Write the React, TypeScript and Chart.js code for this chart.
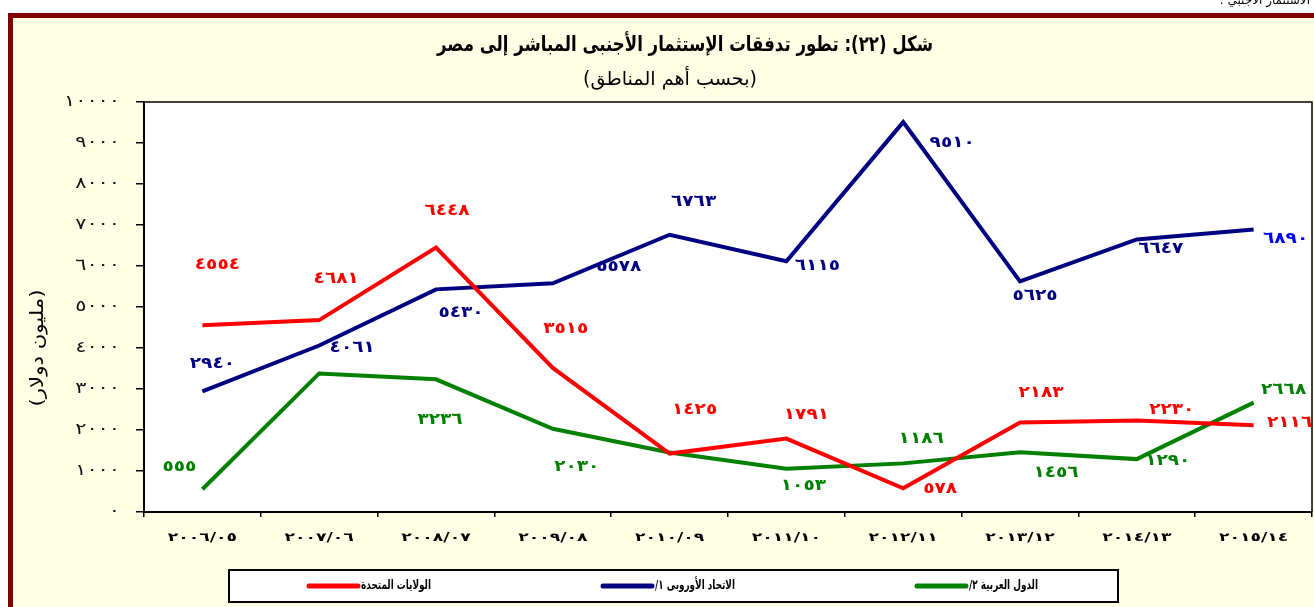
import { useEffect, useRef } from 'react';
import { Chart, registerables } from 'chart.js';

Chart.register(...registerables);

// ---------------- data ----------------
const categories = [
  '٢٠٠٦/٠٥', '٢٠٠٧/٠٦', '٢٠٠٨/٠٧', '٢٠٠٩/٠٨', '٢٠١٠/٠٩',
  '٢٠١١/١٠', '٢٠١٢/١١', '٢٠١٣/١٢', '٢٠١٤/١٣', '٢٠١٥/١٤',
];
const usValues = [4554, 4681, 6448, 3515, 1425, 1791, 578, 2183, 2230, 2116];
const euValues = [2940, 4061, 5430, 5578, 6763, 6115, 9510, 5625, 6647, 6890];
const arabValues = [555, 3380, 3236, 2030, 1450, 1053, 1186, 1456, 1290, 2668];
const seriesNames = ['الولايات المتحدة', 'الاتحاد الأوروبى ١/', 'الدول العربية ٢/'];
const yMin = 0;
const yMax = 10000;
const yStep = 1000;

const titleText = 'شكل (٢٢): تطور تدفقات الإستثمار الأجنبى المباشر إلى مصر';
const subtitleText = '(بحسب أهم المناطق)';
const yAxisTitle = '(مليون دولار)';
const topNote = 'الاستثمار الأجنبي .';

// ---------------- styles / layout ----------------
const colors = ['#FF0000', '#000080', '#008000'];
const labelColors = [
  Array(10).fill('#FF0000'),
  [...Array(9).fill('#000080'), '#0000FF'],
  Array(10).fill('#008000'),
];
// pixel offsets of each value label from its point (null = no label)
const labelOffsets: (number[] | null)[][] = [
  [[15, -60], [17, -41], [11, -37], [13, -39], [25, -44], [20, -24], [37, 1], [21, -30], [35, -11], [36, -2]],
  [[10, -28], [33, 2], [25, 23], [66, -16], [24, -33], [31, 5], [49, 21], [15, 14], [24, 9], [32, 9]],
  [[-23, -22], null, [4, 41], [24, 38], null, [17, 17], [18, -25], [36, 21], [31, 2], [30, -13]],
];
const legendBox = [229, 570, 889, 32];
const legendLineX = [309, 603, 917];
const legendTextW = [70, 80, 69];
const FONT = "'DejaVu Sans', sans-serif";

const toArabicDigits = (v: number | string) =>
  String(v).replace(/\d/g, (d) => '٠١٢٣٤٥٦٧٨٩'[+d]);

// draws text horizontally squeezed/stretched to a target width
function drawFitted(
  ctx: CanvasRenderingContext2D, text: string, x: number, y: number, font: string,
  targetW: number, align: CanvasTextAlign, dir: CanvasDirection = 'rtl',
) {
  ctx.save();
  ctx.font = font;
  ctx.direction = dir;
  ctx.textBaseline = 'middle';
  ctx.textAlign = align;
  const w = ctx.measureText(text).width;
  const s = targetW / w;
  ctx.translate(x, y);
  ctx.scale(s, 1);
  ctx.fillText(text, 0, 0);
  ctx.restore();
}

const decorPlugin = {
  id: 'decor',
  beforeDraw(chart: any) {
    const { ctx, width, height, chartArea } = chart;
    ctx.save();
    ctx.fillStyle = '#FFFFFF';
    ctx.fillRect(0, 0, width, height);
    ctx.fillStyle = '#800000';
    ctx.fillRect(8, 13, width - 8, height - 13);
    ctx.fillStyle = '#FFFFE6';
    ctx.fillRect(13, 18, width - 13, height - 18);
    ctx.fillStyle = '#FFFFFF';
    ctx.fillRect(chartArea.left, chartArea.top, chartArea.right - chartArea.left, chartArea.bottom - chartArea.top);
    // top cropped note
    ctx.fillStyle = '#000';
    ctx.font = `12px ${FONT}`;
    ctx.direction = 'rtl';
    ctx.textAlign = 'right';
    ctx.textBaseline = 'alphabetic';
    ctx.fillText(topNote, 1310, 4);
    ctx.restore();
  },
  afterDraw(chart: any) {
    const { ctx, chartArea, scales } = chart;
    ctx.save();
    // plot box border
    ctx.strokeStyle = '#000';
    ctx.lineWidth = 1.5;
    ctx.beginPath();
    ctx.moveTo(chartArea.left, chartArea.top);
    ctx.lineTo(chartArea.right, chartArea.top);
    ctx.lineTo(chartArea.right, chartArea.bottom);
    ctx.stroke();

    // y tick labels
    ctx.fillStyle = '#111';
    scales.y.ticks.forEach((t: any) => {
      const s = toArabicDigits(t.value);
      drawFitted(ctx, s, 120, scales.y.getPixelForValue(t.value), `16px ${FONT}`, s.length * 11.2, 'right', 'ltr');
    });
    // x tick labels
    ctx.fillStyle = '#000';
    categories.forEach((c, i) => {
      drawFitted(ctx, c, scales.x.getPixelForValue(i), 538, `bold 12px ${FONT}`, c.length * 9.9, 'center', 'ltr');
    });

    // value labels
    chart.data.datasets.forEach((ds: any, di: number) => {
      const meta = chart.getDatasetMeta(di);
      meta.data.forEach((pt: any, i: number) => {
        const off = labelOffsets[di][i];
        if (!off) return;
        const s = toArabicDigits(ds.data[i]);
        ctx.fillStyle = labelColors[di][i];
        drawFitted(ctx, s, pt.x + off[0], pt.y + off[1], `bold 16px ${FONT}`, s.length * 11.3, 'center', 'ltr');
      });
    });

    // titles
    ctx.fillStyle = '#000';
    drawFitted(ctx, titleText, 685, 46, `bold 21px ${FONT}`, 496, 'center');
    drawFitted(ctx, subtitleText, 670, 80, `19px ${FONT}`, 174, 'center');

    // y axis title
    ctx.save();
    ctx.translate(38, 348);
    ctx.rotate(-Math.PI / 2);
    drawFitted(ctx, yAxisTitle, 0, 0, `18px ${FONT}`, 117, 'center');
    ctx.restore();

    // legend
    const [bx, by, bw, bh] = legendBox;
    ctx.fillStyle = '#FFFFFF';
    ctx.fillRect(bx, by, bw, bh);
    ctx.strokeStyle = '#000';
    ctx.lineWidth = 2;
    ctx.strokeRect(bx, by, bw, bh);
    const ly = by + bh / 2;
    chart.data.datasets.forEach((ds: any, di: number) => {
      const x = legendLineX[di];
      ctx.strokeStyle = ds.borderColor;
      ctx.lineWidth = 5;
      ctx.lineCap = 'round';
      ctx.beginPath();
      ctx.moveTo(x, ly);
      ctx.lineTo(x + 49, ly);
      ctx.stroke();
      ctx.fillStyle = '#000';
      drawFitted(ctx, ds.label, x + 52, ly, `bold 13px ${FONT}`, legendTextW[di], 'left');
    });
    ctx.restore();
  },
};

export default function App() {
  const ref = useRef<HTMLCanvasElement>(null);
  useEffect(() => {
    if (!ref.current) return;
    const chart = new Chart(ref.current, {
      type: 'line',
      data: {
        labels: categories,
        datasets: [usValues, euValues, arabValues].map((vals, i) => ({
          label: seriesNames[i],
          data: vals,
          borderColor: colors[i],
          backgroundColor: colors[i],
          borderWidth: 4,
          pointRadius: 0,
          tension: 0,
          fill: false,
          borderJoinStyle: 'miter' as const,
        })),
      },
      options: {
        responsive: false,
        animation: false,
        layout: { padding: { left: 0, right: 2, top: 102, bottom: 0 } },
        plugins: {
          legend: { display: false },
          title: { display: false },
          tooltip: { enabled: false },
        },
        scales: {
          x: {
            type: 'category',
            offset: true,
            grid: { display: true, drawOnChartArea: false, offset: true, tickLength: 5, color: '#000', lineWidth: 1.5 },
            border: { display: true, color: '#000', width: 2 },
            ticks: { display: false, autoSkip: false, maxRotation: 0 },
            afterFit: (s: any) => { s.height = 95; },
          },
          y: {
            min: yMin,
            max: yMax,
            grid: { display: true, drawOnChartArea: false, tickLength: 8, color: '#000', lineWidth: 1.5 },
            border: { display: true, color: '#000', width: 2 },
            ticks: { display: false, stepSize: yStep },
            afterFit: (s: any) => { s.width = 144; },
          },
        },
      },
      plugins: [decorPlugin],
    });
    return () => chart.destroy();
  }, []);
  return (
    <div style={{ position: 'fixed', left: 0, top: 0, width: 1314, height: 607 }}>
      <canvas ref={ref} width={1314} height={607} />
    </div>
  );
}
